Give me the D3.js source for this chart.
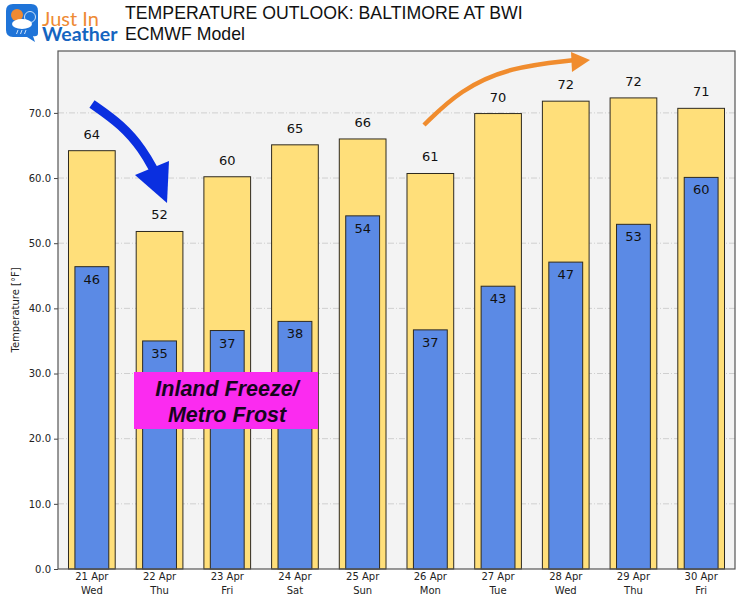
<!DOCTYPE html>
<html>
<head>
<meta charset="utf-8">
<script src="https://cdn.jsdelivr.net/npm/d3@7/dist/d3.min.js"></script>
<style>
  html, body { margin: 0; padding: 0; background: #fff; }
  text { font-family: "DejaVu Sans", sans-serif; }
</style>
</head>
<body>
<div id="svg-container"></div>
<script>
var days = ['21 Apr', '22 Apr', '23 Apr', '24 Apr', '25 Apr', '26 Apr', '27 Apr', '28 Apr', '29 Apr', '30 Apr'];
var weekdays = ['Wed', 'Thu', 'Fri', 'Sat', 'Sun', 'Mon', 'Tue', 'Wed', 'Thu', 'Fri'];
var highs = [64.2, 51.8, 60.2, 65.1, 66.0, 60.7, 69.9, 71.8, 72.3, 70.7];
var lows = [46.4, 35.0, 36.6, 38.0, 54.2, 36.7, 43.4, 47.1, 52.9, 60.1];
var yTicks = [0, 10, 20, 30, 40, 50, 60, 70];

var plotLeft = 58, plotRight = 735, plotTop = 51, plotBottom = 569;

var svg = d3.select('#svg-container').append('svg')
    .attr('width', 750)
    .attr('height', 600)
    .style('display', 'block');

var x = d3.scaleBand().domain(days).range([plotLeft, plotRight]);
var y = d3.scaleLinear().domain([0, 79.5]).range([plotBottom, plotTop]);

svg.append('rect')
    .attr('x', plotLeft).attr('y', plotTop)
    .attr('width', plotRight - plotLeft).attr('height', plotBottom - plotTop)
    .style('fill', '#f3f3f3');

// grid
svg.append('g').selectAll('line')
    .data(yTicks.slice(1))
    .enter()
    .append('line')
    .attr('x1', plotLeft).attr('x2', plotRight)
    .attr('y1', function (d) { return y(d); })
    .attr('y2', function (d) { return y(d); })
    .style('stroke', '#cfcfcf')
    .style('stroke-width', 1)
    .style('stroke-dasharray', '6 2 1 2');

function drawBars(values, widthShare, color) {
  var w = x.bandwidth() * widthShare;
  svg.append('g').selectAll('rect')
      .data(values)
      .enter()
      .append('rect')
      .attr('x', function (d, i) { return x(days[i]) + (x.bandwidth() - w) / 2; })
      .attr('y', function (d) { return y(d); })
      .attr('width', w)
      .attr('height', function (d) { return y(0) - y(d); })
      .style('fill', color)
      .style('stroke', '#2e2a20')
      .style('stroke-width', 1);
}
drawBars(highs, 0.69, '#ffdf7a');
drawBars(lows, 0.5, '#5b8ae5');

svg.append('g').selectAll('text')
    .data(highs)
    .enter()
    .append('text')
    .attr('x', function (d, i) { return x(days[i]) + x.bandwidth() / 2; })
    .attr('y', function (d) { return y(d) - 12; })
    .attr('text-anchor', 'middle')
    .style('font-size', '13px')
    .style('fill', '#111')
    .text(function (d) { return Math.round(d); });

svg.append('g').selectAll('text')
    .data(lows)
    .enter()
    .append('text')
    .attr('x', function (d, i) { return x(days[i]) + x.bandwidth() / 2; })
    .attr('y', function (d) { return y(d) + 17; })
    .attr('text-anchor', 'middle')
    .style('font-size', '13px')
    .style('fill', '#111')
    .text(function (d) { return Math.round(d); });

// axes
var yAxis = d3.axisLeft(y).tickValues(yTicks).tickSize(4).tickPadding(3)
    .tickFormat(function (d) { return d.toFixed(1); });
var yG = svg.append('g').attr('transform', 'translate(' + plotLeft + ',0)').call(yAxis);
yG.select('.domain').remove();
yG.selectAll('text').style('font-size', '10px').style('fill', '#222');
yG.selectAll('line').style('stroke', '#444');

var xAxis = d3.axisBottom(x).tickSize(0).tickPadding(4);
var xG = svg.append('g').attr('transform', 'translate(0,' + plotBottom + ')').call(xAxis);
xG.select('.domain').remove();
xG.selectAll('text').style('font-size', '10px').style('fill', '#222');
xG.selectAll('.tick').append('text')
    .attr('y', 18)
    .attr('dy', '0.71em')
    .attr('text-anchor', 'middle')
    .style('font-size', '10px')
    .style('fill', '#222')
    .text(function (d, i) { return weekdays[i]; });

svg.append('rect')
    .attr('x', plotLeft).attr('y', plotTop)
    .attr('width', plotRight - plotLeft).attr('height', plotBottom - plotTop)
    .style('fill', 'none')
    .style('stroke', '#555')
    .style('stroke-width', 1.2);

svg.append('text')
    .attr('transform', 'translate(19,' + (plotTop + plotBottom) / 2 + ') rotate(-90)')
    .attr('text-anchor', 'middle')
    .style('font-size', '10px')
    .style('fill', '#222')
    .text('Temperature [°F]');

// titles
svg.append('text').attr('x', 125).attr('y', 19)
    .style('font-family', '"Liberation Sans", sans-serif')
    .style('font-size', '17.7px').style('fill', '#111')
    .text('TEMPERATURE OUTLOOK: BALTIMORE AT BWI');
svg.append('text').attr('x', 125).attr('y', 40)
    .style('font-family', '"Liberation Sans", sans-serif')
    .style('font-size', '17.7px').style('fill', '#111')
    .text('ECMWF Model');

// freeze callout
svg.append('rect')
    .attr('x', 134).attr('y', 372)
    .attr('width', 184).attr('height', 57)
    .style('fill', '#fb2bf0');
[['Inland Freeze/', 396], ['Metro Frost', 422]].forEach(function (t) {
  svg.append('text').attr('x', 227).attr('y', t[1])
      .attr('text-anchor', 'middle')
      .style('font-family', '"Liberation Sans", sans-serif')
      .style('font-size', '21.5px')
      .style('font-weight', 'bold')
      .style('font-style', 'italic')
      .style('fill', '#16051c')
      .text(t[0]);
});

// hand drawn arrows
var curve = d3.line().curve(d3.curveBasis);
svg.append('path')
    .attr('d', curve([[92, 104], [122, 125], [143, 150], [155, 172]]))
    .style('fill', 'none').style('stroke', '#0a2fe0').style('stroke-width', 9);
svg.append('path')
    .attr('d', 'M135,175L169,161L167,203Z')
    .style('fill', '#0a2fe0');
svg.append('path')
    .attr('d', curve([[424, 125], [460, 90], [510, 67], [575, 60]]))
    .style('fill', 'none').style('stroke', '#f08c2e').style('stroke-width', 4.5);
svg.append('path')
    .attr('d', 'M571,52L590,60L572,72Z')
    .style('fill', '#f08c2e');

// logo
var logo = svg.append('g');
logo.append('path')
    .attr('d', 'M13,4H31Q38,4 38,11V33Q38,37 33,36L35,42L27,37H13Q6,37 6,30V11Q6,4 13,4Z')
    .style('fill', '#1f74d8');
logo.append('circle').attr('cx', 17).attr('cy', 15).attr('r', 6).style('fill', '#f08a33');
logo.append('circle').attr('cx', 30).attr('cy', 17).attr('r', 5.5)
    .style('fill', '#1f74d8').style('stroke', '#cfe3fa').style('stroke-width', 1);
logo.append('ellipse').attr('cx', 22).attr('cy', 24).attr('rx', 10).attr('ry', 5).style('fill', '#fff');
logo.append('path')
    .attr('d', 'M18,30l-1.5,4M22,30l-1.5,4M26,30l-1.5,4')
    .style('stroke', '#cfe3fa').style('stroke-width', 1);
logo.append('text').attr('x', 42).attr('y', 26)
    .style('font-family', 'Lato, sans-serif').style('font-size', '20px')
    .style('fill', '#ee8a34').text('Just In');
logo.append('text').attr('x', 42).attr('y', 41)
    .style('font-family', 'Lato, sans-serif').style('font-size', '19.5px').style('font-weight', 'bold')
    .style('fill', '#1565c0').text('Weather');
</script>
</body>
</html>
